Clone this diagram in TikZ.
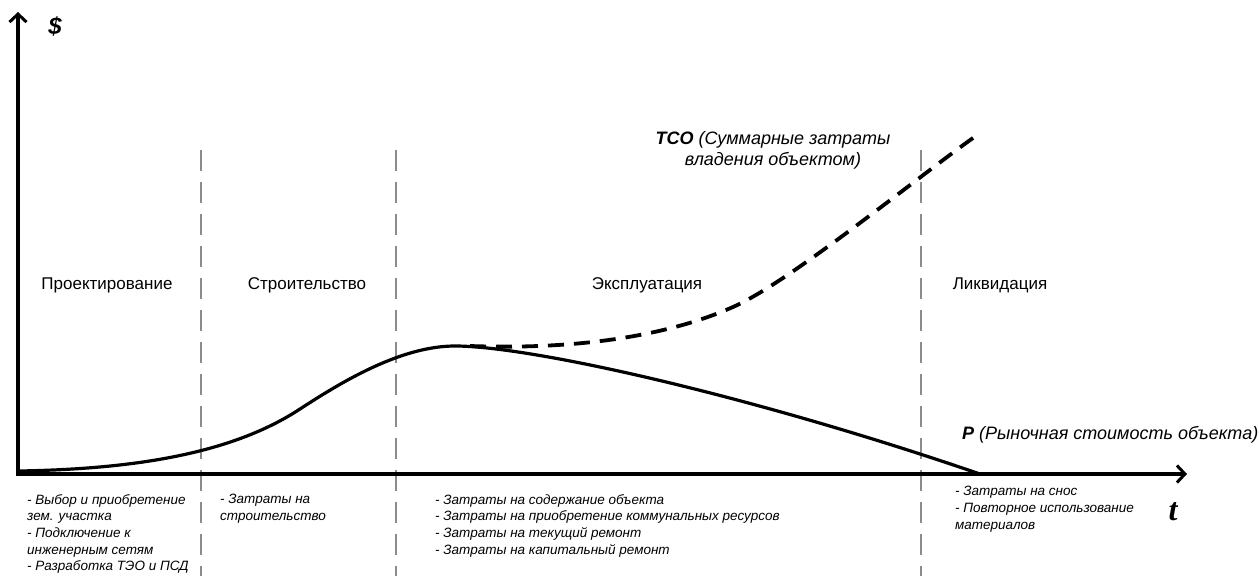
\documentclass[tikz,border=0pt]{standalone}
\usepackage{fontspec}
\setmainfont{Liberation Sans}
\newfontfamily\tfont{Liberation Serif}
\usetikzlibrary{arrows.meta}

\begin{document}
\begin{tikzpicture}[x=1pt,y=-1pt,
    axis/.style={line width=3.5pt,line join=miter,{Straight Barb[length=8pt,width=17pt,line width=3pt]}-{Straight Barb[length=8pt,width=17pt,line width=3pt]}},
    border/.style={draw=black!45,line width=2pt,dash pattern=on 21pt off 11pt},
    price/.style={line width=3.2pt},
    tco/.style={line width=3.8pt,dash pattern=on 16pt off 10pt},
    phase/.style={anchor=base,font=\fontsize{17}{20}\selectfont},
    costs/.style={anchor=north west,inner sep=0pt,align=left,font=\fontsize{13.5}{16.7}\selectfont\itshape}]
    \useasboundingbox (0,0) rectangle (1259,581);
    \coordinate (O) at (18,474);
    \coordinate (ytop) at (18,12);
    \coordinate (xend) at (1187,474);
    \foreach \x in {201,396,921}
      \draw[border] (\x,150) -- (\x,576);
    \draw[axis] (ytop) -- (O) -- (xend);
    \node[anchor=base,font=\fontsize{24}{24}\selectfont\bfseries\itshape] (dollar) at (55,34) {\$};
    \node[anchor=base,font=\fontsize{32}{32}\selectfont\tfont\bfseries\itshape] (time) at (1173,520) {t};
    \node[phase] (design) at (107,289) {Проектирование};
    \node[phase] (build) at (307,289) {Строительство};
    \node[phase] (operate) at (647,289) {Эксплуатация};
    \node[phase] (dispose) at (1000,289) {Ликвидация};
    \coordinate (start) at (20,471);
    \coordinate (bend) at (300,409);
    \coordinate (peak) at (455,346);
    \coordinate (zero) at (980,474);
    \draw[price] (start) .. controls (130,469) and (230,455) .. (bend)
      .. controls (340,383) and (400,346) .. (peak)
      .. controls (530,346) and (750,395) .. (zero);
    \coordinate (split) at (470,346);
    \coordinate (mid) at (733,307);
    \coordinate (tcoend) at (980,133);
    \draw[tco] (split) .. controls (580,350) and (670,335) .. (mid)
      .. controls (790,282) and (920,175) .. (tcoend);
    \node[anchor=base,align=center,font=\fontsize{18}{21}\selectfont\itshape] (tcolabel) at (773,165)
      {\textbf{TCO} (Суммарные затраты\\владения объектом)};
    \node[anchor=base west,inner sep=0pt,font=\fontsize{18}{21}\selectfont\itshape] (plabel) at (962,439)
      {\textbf{P} (Рыночная стоимость объекта)};
    \node[costs] (designcosts) at (27,494) {- Выбор и приобретение\\зем. участка\\- Подключение к\\инженерным сетям\\- Разработка ТЭО и ПСД};
    \node[costs] (buildcosts) at (220,494) {- Затраты на\\строительство};
    \node[costs] (operatecosts) at (435,494) {- Затраты на содержание объекта\\- Затраты на приобретение коммунальных ресурсов\\- Затраты на текущий ремонт\\- Затраты на капитальный ремонт};
    \node[costs] (disposecosts) at (955,486) {- Затраты на снос\\- Повторное использование\\материалов};
\end{tikzpicture}
\end{document}
